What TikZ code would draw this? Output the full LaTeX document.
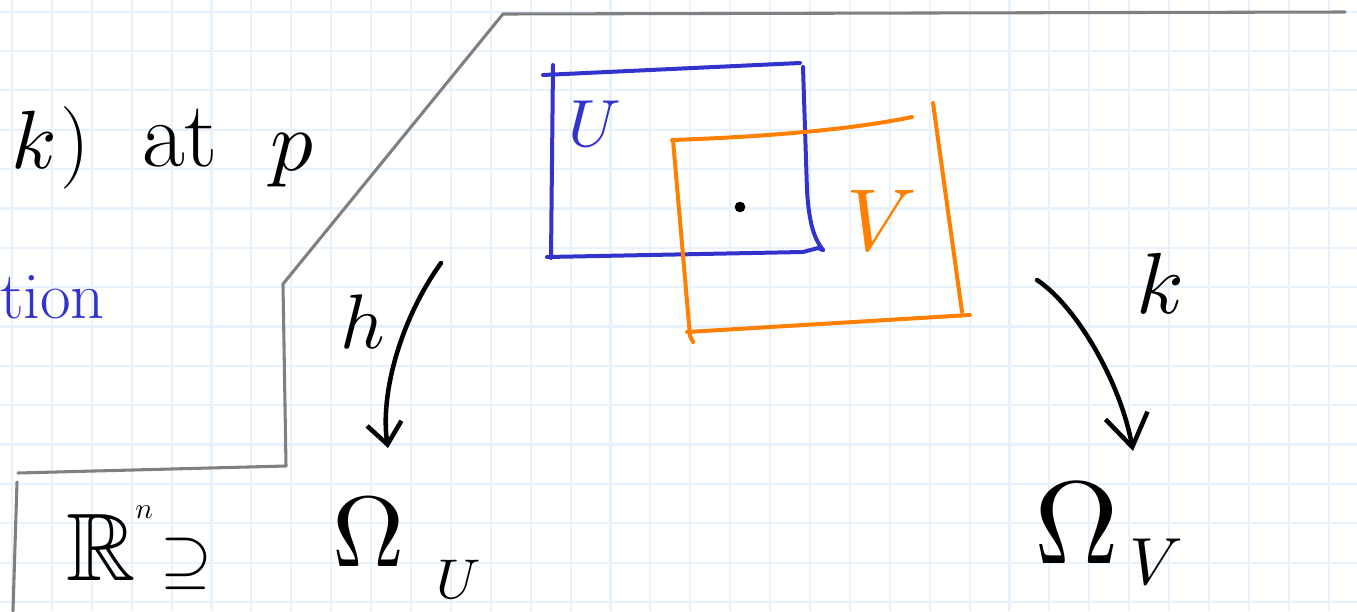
\documentclass[tikz,border=0pt]{standalone}
\usepackage{amssymb}
\DeclareFontShape{OML}{cmm}{m}{it}{<->cmmi10}{}
\DeclareFontShape{OT1}{cmr}{m}{n}{<->cmr10}{}
\DeclareFontShape{OMS}{cmsy}{m}{n}{<->cmsy10}{}
\usetikzlibrary{arrows.meta}
\definecolor{gridblue}{RGB}{232,242,252}
\definecolor{panelgray}{RGB}{128,128,128}
\definecolor{inkblue}{RGB}{50,50,205}
\definecolor{inkorange}{RGB}{255,128,0}
\tikzset{
  gridline/.style={draw=gridblue,line width=1.6pt},
  panel/.style={draw=panelgray,line width=2.3pt,line cap=round,line join=round},
  ink/.style={draw=black,line width=3.4pt,line cap=round,line join=round},
  bluebox/.style={draw=inkblue,line width=3pt,line cap=round,line join=round},
  orangebox/.style={draw=inkorange,line width=3pt,line cap=round,line join=round},
  txt/.style={inner sep=0pt,outer sep=0pt,anchor=base west},
}
\begin{document}
\begin{tikzpicture}[x=0.75pt,y=-0.75pt]
\useasboundingbox (0,0) rectangle (1357,611);
\fill[white] (0,0) rectangle (1357,611);
% grid
\foreach \i in {0,...,33} \draw[gridline] ({12+39.9*\i},0) -- ({12+39.9*\i},611);
\foreach \j in {0,...,15} \draw[gridline] (0,{11.7+39.35*\j}) -- (1357,{11.7+39.35*\j});
% gray panel outline
\draw[panel] (1345,12) -- (503,14) -- (283,284) -- (286,466) -- (18,473);
\draw[panel] (17,482) -- (13,611);
% top-left text
\node[txt,font=\fontsize{62}{62}\selectfont] (tk) at (12,168) {$k$\kern2pt)};
\node[txt,font=\fontsize{70}{70}\selectfont] (tat) at (142,166) {at};
\node[txt,font=\fontsize{64}{64}\selectfont] (tp) at (270,170) {$p$};
\node[txt,font=\fontsize{50}{50}\selectfont,text=inkblue] (ttion) at (0,318) {tion};
% blue set U
\draw[bluebox] (543,75) -- (800,63);
\draw[bluebox] (553,65) -- (551,258);
\draw[bluebox] (547,257) -- (803,252) -- (818,248) -- (823,250);
\draw[bluebox] (803,67) -- (807,190) .. controls (809,225) and (815,240) .. (823,250);
\node[txt,font=\fontsize{50}{50}\selectfont,text=inkblue] (lU) at (568,146) {$U$};
% orange set V
\draw[orangebox] (672,140) .. controls (760,137) and (850,130) .. (912,117);
\draw[orangebox] (673,140) -- (690,336) -- (693,342);
\draw[orangebox] (687,332) -- (970,315);
\draw[orangebox] (933,103) -- (962,312);
\node[txt,font=\fontsize{66}{66}\selectfont,text=inkorange] (lV) at (846,250) {$V$};
% the point
\node[circle,fill=black,inner sep=0pt,minimum size=8pt] (pt) at (740,207) {};
% chart h
\node[txt,font=\fontsize{58}{58}\selectfont] (lh) at (340,348) {$h$};
\coordinate (hs) at (441,263);
\coordinate (he) at (388,448);
\draw[ink,-{Straight Barb[length=16pt,width=26pt]}] (hs) .. controls (400,320) and (380,395) .. (he);
\node[txt,font=\fontsize{75}{75}\selectfont] (OmU) at (332,566) {$\Omega$\kern24pt\raisebox{-24pt}{\fontsize{42}{42}\selectfont$U$}};
% chart k
\node[txt,font=\fontsize{65}{65}\selectfont] (lk) at (1136,313) {$k$};
\coordinate (ks) at (1037,280);
\coordinate (ke) at (1133,451);
\draw[ink,-{Straight Barb[length=24pt,width=32pt]}] (ks) .. controls (1075,305) and (1120,380) .. (ke);
\node[txt,font=\fontsize{88}{88}\selectfont] (OmV) at (1034,563) {$\Omega$\kern8pt\raisebox{-16pt}{\fontsize{50}{50}\selectfont$V$}};
% R^n contains
\node[txt,font=\fontsize{72}{72}\selectfont] (Rn) at (66,580) {$\mathbb{R}$\kern0pt\raisebox{46pt}{\fontsize{22}{22}\selectfont$n$}\kern6pt{\fontsize{50}{50}\selectfont$\supseteq$}};
\end{tikzpicture}
\end{document}
